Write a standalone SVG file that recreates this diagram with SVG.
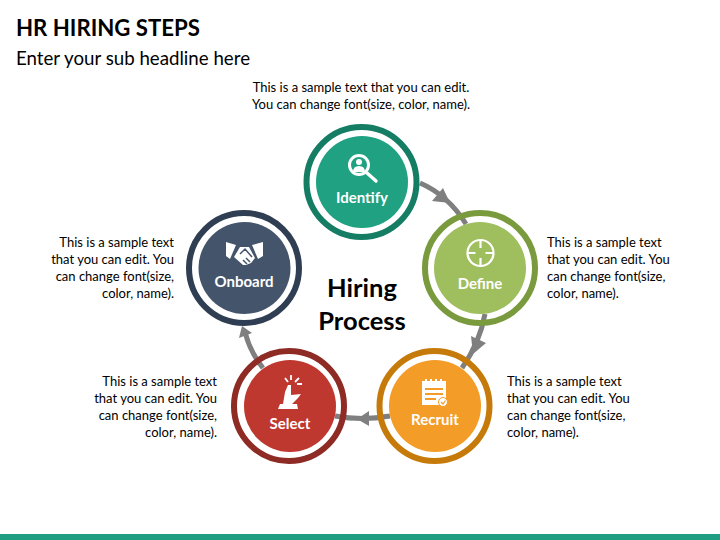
<svg xmlns="http://www.w3.org/2000/svg" width="720" height="540" viewBox="0 0 720 540">
<style>
text{font-family:Lato,"Open Sans","Liberation Sans",sans-serif;fill:#000}
.b{font-size:13px}
.r{text-anchor:end}
.m{text-anchor:middle}
.l{font-size:15px;font-weight:700;fill:#fff;text-anchor:middle}
.h{font-size:25.5px;font-weight:700;text-anchor:middle}
.c{fill:none;stroke:#7f7f7f;stroke-width:5}
.a{fill:#7f7f7f}
.ring{fill:none;stroke-width:6}
.i{fill:#fff}
.s{fill:none;stroke:#fff;stroke-width:2.2}
</style>
<rect width="720" height="540" fill="#fff"/>
<text x="16" y="36" font-size="22.2" font-weight="700">HR HIRING STEPS</text>
<text x="16" y="65" font-size="18.700">Enter your sub headline here</text>
<rect x="0" y="534" width="720" height="6" fill="#1f9e82"/>
<g id="connectors">
<path class="c" d="M420 183Q448 195 466 224"/><path class="a" d="M443 188L432 201L450 203Z"/>
<path class="c" d="M485 314Q480 342 462 368"/><path class="a" d="M471 336L486 343L473 354Z"/>
<path class="c" d="M390 416Q362 421 335 416"/><path class="a" d="M369 411L369 426L357 419Z"/>
<path class="c" d="M263 368Q250 352 245 332"/><path class="a" d="M239 338L252 333L242 326Z"/>
</g>
<g id="identify">
<circle cx="361.500" cy="182" r="55" class="ring" stroke="#147d64"/><circle cx="362" cy="182" r="46" fill="#1fa182"/>
<circle cx="359" cy="165" r="9.500" fill="none" stroke="#fff" stroke-width="3"/>
<path d="M367 173L376 181" stroke="#fff" stroke-width="3.400" stroke-linecap="round"/>
<circle cx="359" cy="162" r="3" class="i"/><path class="i" d="M353 172Q353 166 359 166Q365 166 365 172Z"/>
<text x="362" y="203" class="l">Identify</text>
<text x="361" y="92" class="b m">This is a sample text that you can edit.</text>
<text x="361" y="109" class="b m">You can change font(size, color, name).</text>
</g>
<g id="define">
<circle cx="480" cy="268" r="55" class="ring" stroke="#7a9a3e"/><circle cx="480" cy="268" r="46" fill="#9fbe5e"/>
<circle cx="480.500" cy="253" r="13" class="s"/>
<path class="s" d="M480.500 240V248M480.500 258V266M467.500 253H475.500M485.500 253H493.500"/>
<text x="480" y="289" class="l">Define</text>
<text x="547" y="247" class="b">This is a sample text</text>
<text x="547" y="264" class="b">that you can edit. You</text>
<text x="547" y="281" class="b">can change font(size,</text>
<text x="547" y="298" class="b">color, name).</text>
</g>
<g id="recruit">
<circle cx="434.500" cy="406" r="55" class="ring" stroke="#c67a0a"/><circle cx="435" cy="406" r="46" fill="#f39c27"/>
<path class="i" d="M422 381H446V398L440 405H422Z"/>
<path d="M426 379V385M431 379V385M436 379V385M441 379V385" stroke="#fff" stroke-width="2"/>
<path d="M425 389H443M425 394H443M425 399H436" stroke="#f39c27" stroke-width="2"/>
<circle cx="443" cy="402" r="4.500" class="i" stroke="#f39c27"/>
<path d="M441 402L443 404L445.500 400.500" fill="none" stroke="#f39c27" stroke-width="1.200"/>
<text x="435" y="425" class="l">Recruit</text>
<text x="507" y="386" class="b">This is a sample text</text>
<text x="507" y="403" class="b">that you can edit. You</text>
<text x="507" y="420" class="b">can change font(size,</text>
<text x="507" y="437" class="b">color, name).</text>
</g>
<g id="select">
<circle cx="289" cy="406" r="55" class="ring" stroke="#8e2b25"/><circle cx="290" cy="406" r="46" fill="#bf382f"/>
<path class="i" d="M278 409L280 404H283L285 392L288 385H291V395L301 394L298 398L292 404H297L298 409Z"/>
<path d="M285 378L288 382M291 375V380M299 378L295 382M302 384H297" stroke="#fff" stroke-width="1.800"/>
<text x="290" y="429" class="l">Select</text>
<text x="217" y="386" class="b r">This is a sample text</text>
<text x="217" y="403" class="b r">that you can edit. You</text>
<text x="217" y="420" class="b r">can change font(size,</text>
<text x="217" y="437" class="b r">color, name).</text>
</g>
<g id="onboard">
<circle cx="244" cy="268" r="55" class="ring" stroke="#2f3e52"/><circle cx="244.500" cy="268" r="46" fill="#44546a"/>
<path class="i" d="M226 242L236 245L230 259L226 256Z"/>
<path class="i" d="M263 242L252 245L258 259L263 256Z"/>
<path class="i" d="M234 257L240 247H249L255 258L251 263L246 265H243Z"/>
<path d="M240 254L245 249L252 257M246 258L250 262M243 260L247 264" fill="none" stroke="#44546a" stroke-width="1.500"/>
<text x="244" y="287" class="l">Onboard</text>
<text x="174" y="247" class="b r">This is a sample text</text>
<text x="174" y="264" class="b r">that you can edit. You</text>
<text x="174" y="281" class="b r">can change font(size,</text>
<text x="174" y="298" class="b r">color, name).</text>
</g>
<text x="362" y="297" class="h">Hiring</text>
<text x="362" y="330" class="h">Process</text>
</svg>
